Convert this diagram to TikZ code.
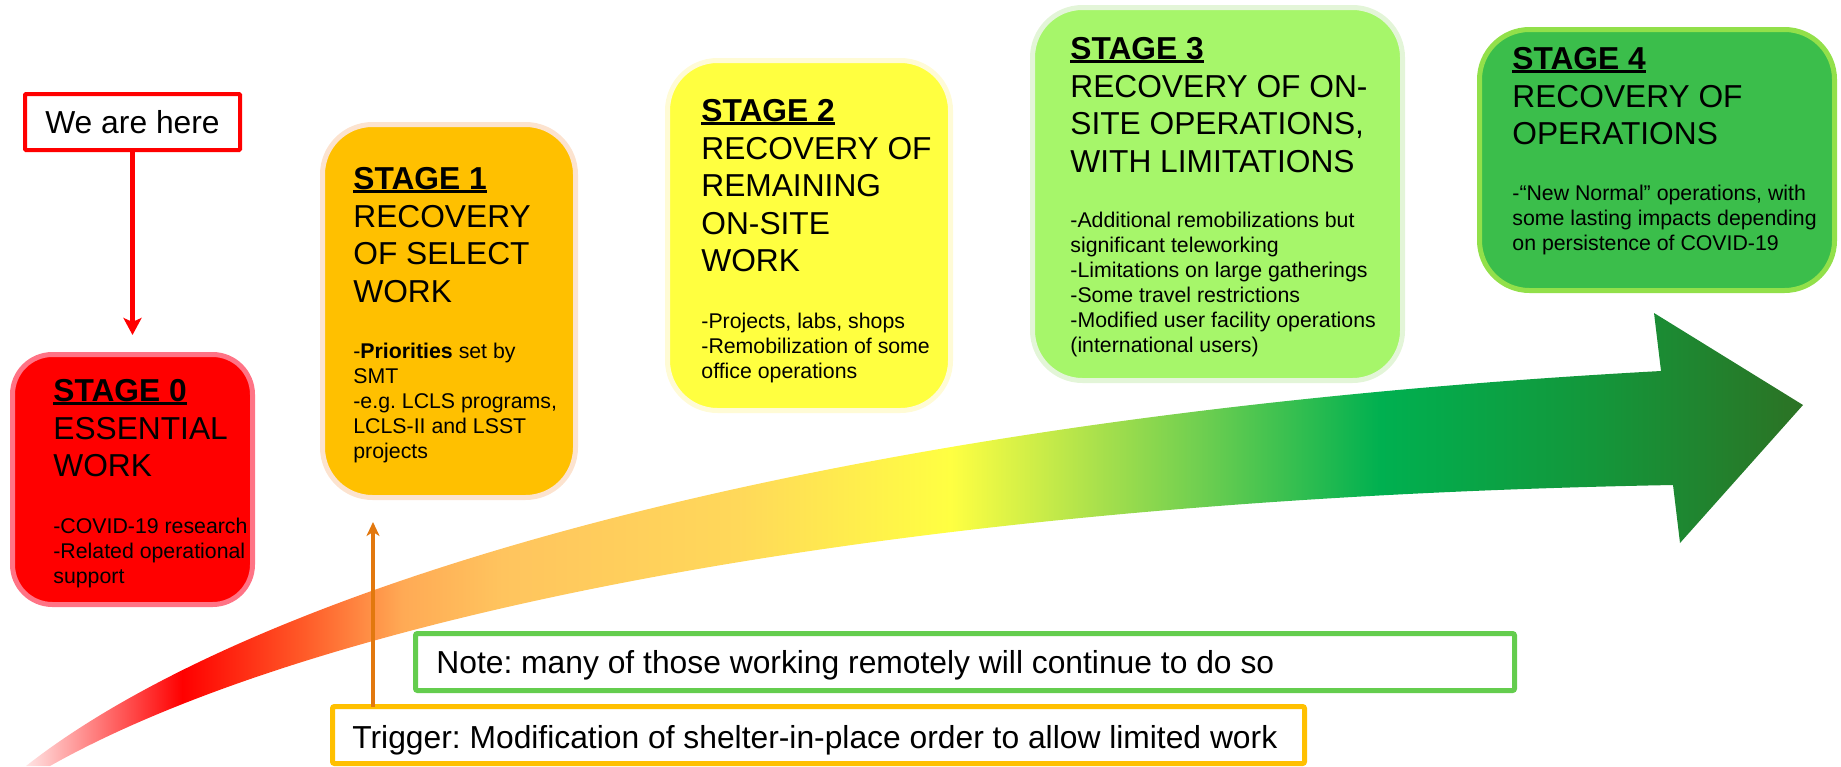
\documentclass[tikz,border=0pt]{standalone}
\usepackage{fontspec}
\setmainfont{Liberation Sans}
\usetikzlibrary{arrows.meta}
\definecolor{agA}{HTML}{FFE4E4}
\definecolor{agB}{HTML}{FF7070}
\definecolor{agC}{HTML}{FF0000}
\definecolor{agD}{HTML}{FF5A28}
\definecolor{agE}{HTML}{FFAA55}
\definecolor{agF}{HTML}{FFC45E}
\definecolor{agG}{HTML}{FFD85A}
\definecolor{agH}{HTML}{FFFF42}
\definecolor{agI}{HTML}{A8E04C}
\definecolor{agJ}{HTML}{70CF50}
\definecolor{agK}{HTML}{00B050}
\definecolor{agL}{HTML}{14963A}
\definecolor{agM}{HTML}{2C7224}
\definecolor{sAfill}{HTML}{FF0000}
\definecolor{sAline}{HTML}{FF7385}
\definecolor{sBfill}{HTML}{FFC000}
\definecolor{sBline}{HTML}{FCE3CF}
\definecolor{sCfill}{HTML}{FFFF40}
\definecolor{sCline}{HTML}{FFFBD6}
\definecolor{sDfill}{HTML}{A6F66A}
\definecolor{sDline}{HTML}{E3F5D8}
\definecolor{sEfill}{HTML}{3BBE4B}
\definecolor{sEline}{HTML}{92E04A}
\definecolor{noteline}{HTML}{64CD4E}
\definecolor{trigline}{HTML}{FFC000}
\definecolor{trigarrow}{HTML}{E2780E}
\pgfdeclarehorizontalshading{arrowgrad}{100bp}{color(0bp)=(agA); color(25bp)=(agA); color(27.2bp)=(agB); color(29.4bp)=(agC); color(32.8bp)=(agD); color(35.6bp)=(agE); color(38.4bp)=(agF); color(45bp)=(agG); color(51bp)=(agH); color(55.2bp)=(agI); color(58bp)=(agJ); color(63.1bp)=(agK); color(69.3bp)=(agL); color(75bp)=(agM); color(100bp)=(agM)}
\newsavebox\myulbox
\newcommand\myul[1]{\sbox\myulbox{#1}\rlap{\rule[-1.5pt]{\wd\myulbox}{1.2pt}}\usebox\myulbox}
\frenchspacing
\tikzset{
  stagebox/.style={rectangle, rounded corners=25pt, line width=2.5pt, inner sep=0pt, outer sep=0pt},
  titletext/.style={anchor=north west, inner sep=0pt, align=left, font=\fontsize{15.85}{18.75}\selectfont},
  bodytext/.style={anchor=north west, inner sep=0pt, align=left, font=\fontsize{10.65}{12.5}\selectfont},
  framebox/.style={rectangle, draw, line width=2.5pt, inner sep=0pt, outer sep=0pt, fill=white, rounded corners=1pt},
  bigtext/.style={anchor=base west, inner sep=0pt, font=\fontsize{15.9}{19}\selectfont},
  redarrow/.style={draw=red, line width=2.6pt, -{Stealth[length=8.5pt, width=9pt, inset=2pt]}},
  orangearrow/.style={draw=trigarrow, line width=2.2pt, -{Stealth[length=7pt, width=6.5pt, inset=2pt]}},
}
\begin{document}
\begin{tikzpicture}[x=0.5pt, y=-0.5pt]
\useasboundingbox (0,0) rectangle (1841,766);
% big curved arrow
\shade[shading=arrowgrad] (26,766) .. controls (250,590) and (800,418) .. (1661,371)
  -- (1654,313) -- (1803,405) -- (1680,543) -- (1673,485)
  .. controls (850,500) and (300,625) .. (50,766) -- cycle;
% stage boxes
\node[stagebox, rounded corners=20pt, fill=sAfill, draw=sAline, minimum width=120pt, minimum height=125pt] (s0) at (132.5,479.5) {};
\node[stagebox, fill=sBfill, draw=sBline, minimum width=126.5pt, minimum height=186.5pt] (s1) at (449,311) {};
\node[stagebox, fill=sCfill, draw=sCline, minimum width=141.5pt, minimum height=175pt] (s2) at (809,235.5) {};
\node[stagebox, fill=sDfill, draw=sDline, minimum width=185pt, minimum height=186.5pt] (s3) at (1217.5,194) {};
\node[stagebox, fill=sEfill, draw=sEline, minimum width=177.5pt, minimum height=130.5pt] (s4) at (1657,160) {};
% stage texts
\node[titletext] (t0) at (53,379) {\myul{\textbf{STAGE 0}}\\ESSENTIAL\\WORK};
\node[bodytext] (b0) at (53,517.5) {-COVID-19 research\\-Related operational\\support};
\node[titletext] (t1) at (353,167) {\myul{\textbf{STAGE 1}}\\RECOVERY\\OF SELECT\\WORK};
\node[bodytext] (b1) at (353,342.5) {-\textbf{Priorities} set by\\SMT\\-e.g. LCLS programs,\\LCLS-II and LSST\\projects};
\node[titletext] (t2) at (701,99) {\myul{\textbf{STAGE 2}}\\RECOVERY OF\\REMAINING\\ON-SITE\\WORK};
\node[bodytext] (b2) at (701,312.5) {-Projects, labs, shops\\-Remobilization of some\\office operations};
\node[titletext] (t3) at (1070,37) {\myul{\textbf{STAGE 3}}\\RECOVERY OF ON-\\SITE OPERATIONS,\\WITH LIMITATIONS};
\node[bodytext] (b3) at (1070,211.5) {-Additional remobilizations but\\significant teleworking\\-Limitations on large gatherings\\-Some travel restrictions\\-Modified user facility operations\\(international users)};
\node[titletext] (t4) at (1512,47) {\myul{\textbf{STAGE 4}}\\RECOVERY OF\\OPERATIONS};
\node[bodytext] (b4) at (1512,184.5) {-“New Normal” operations, with\\some lasting impacts depending\\on persistence of COVID-19};
% we are here
\node[framebox, draw=red, line width=2pt, rounded corners=0.5pt, minimum width=107.5pt, minimum height=28pt, font=\fontsize{15.9}{19}\selectfont] (here) at (132.5,122) {We are here};
\draw[redarrow, shorten >=9.75pt] (here) -- (s0);
% note and trigger boxes
\node[framebox, draw=noteline, minimum width=549.5pt, minimum height=28.5pt] (note) at (965,662) {};
\node[bigtext] (notetext) at (436,673) {Note: many of those working remotely will continue to do so};
\node[framebox, draw=trigline, minimum width=486pt, minimum height=28.5pt] (trig) at (818.5,735) {};
\node[bigtext] (trigtext) at (352,748) {Trigger: Modification of shelter-in-place order to allow limited work};
\coordinate (trigtop) at (373,706.5);
\draw[orangearrow, shorten >=12.25pt] (trigtop) -- (trigtop |- s1.south);
\end{tikzpicture}
\end{document}
